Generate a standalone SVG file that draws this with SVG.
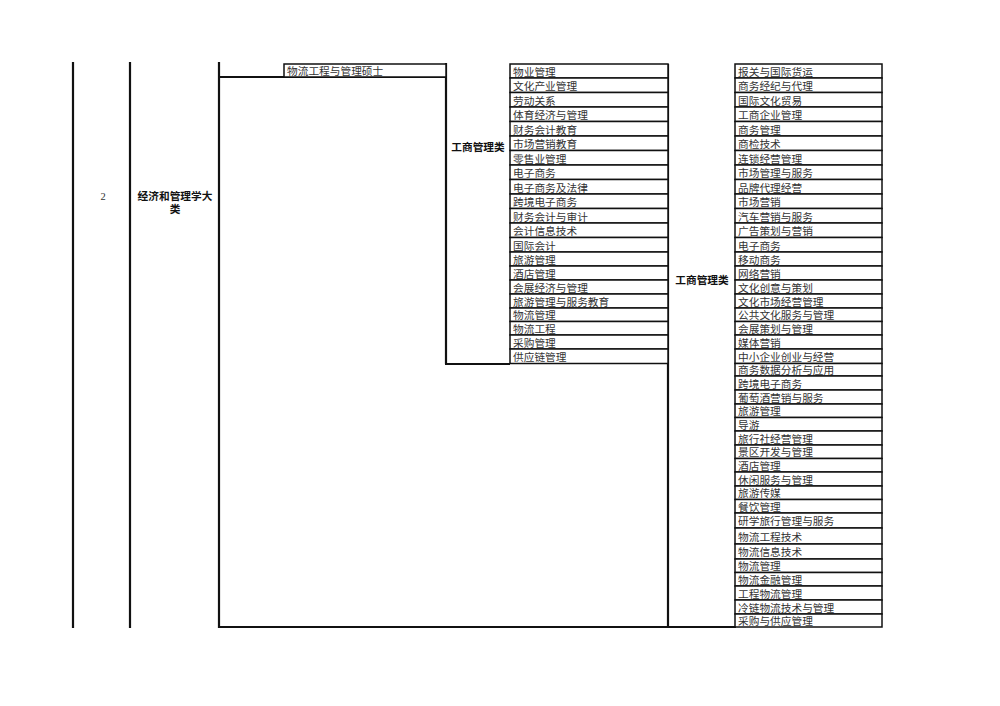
<svg xmlns="http://www.w3.org/2000/svg" width="1000" height="706" viewBox="0 0 1000 706">
<style>
.bg{fill:#fff}
.cell{fill:#fff;stroke:#111;stroke-width:1.5}
.t{font-family:"Liberation Serif","Noto Sans CJK SC",serif;font-size:10.7px;fill:#333}
.b{font-family:"Liberation Sans","Noto Sans CJK SC",sans-serif;font-size:10.7px;font-weight:bold;fill:#111}
.n{font-family:"Liberation Serif","Noto Sans CJK SC",serif;font-size:10.5px;fill:#333}
.thick{stroke:#111;stroke-width:2.2;fill:none}
</style>
<rect class="bg" x="0" y="0" width="1000" height="706"/>
<g id="connectors">
<line class="thick" x1="73" y1="62" x2="73" y2="628"/>
<line class="thick" x1="130" y1="62" x2="130" y2="628"/>
<line class="thick" x1="219" y1="62" x2="219" y2="628"/>
<line class="thick" x1="218" y1="77" x2="447" y2="77"/>
<line class="thick" x1="446" y1="63" x2="446" y2="364"/>
<line class="thick" x1="445" y1="364" x2="510" y2="364"/>
<line class="thick" x1="668" y1="64" x2="668" y2="628"/>
<line class="thick" x1="218" y1="627" x2="736" y2="627"/>
</g>
<g id="node-num"><text class="n" x="103" y="200" text-anchor="middle">2</text></g>
<g id="node-category"><text class="b" x="175" y="200" text-anchor="middle">经济和管理学大</text><text class="b" x="175" y="213" text-anchor="middle">类</text></g>
<g id="node-master"><rect class="cell" x="284" y="64" width="162" height="13"/><text class="t" x="287" y="75">物流工程与管理硕士</text></g>
<g id="node-mid-label"><text class="b" x="478" y="151" text-anchor="middle">工商管理类</text></g>
<g id="node-right-label"><text class="b" x="702" y="284" text-anchor="middle">工商管理类</text></g>
<g id="node-mid-list">
<rect class="cell" x="510" y="64" width="158" height="14"/><text class="t" x="513" y="75.5">物业管理</text>
<rect class="cell" x="510" y="78" width="158" height="14.5"/><text class="t" x="513" y="90">文化产业管理</text>
<rect class="cell" x="510" y="92.5" width="158" height="14.5"/><text class="t" x="513" y="104.5">劳动关系</text>
<rect class="cell" x="510" y="107" width="158" height="14.5"/><text class="t" x="513" y="119">体育经济与管理</text>
<rect class="cell" x="510" y="121.5" width="158" height="14.5"/><text class="t" x="513" y="133.5">财务会计教育</text>
<rect class="cell" x="510" y="136" width="158" height="14.5"/><text class="t" x="513" y="148">市场营销教育</text>
<rect class="cell" x="510" y="150.5" width="158" height="14.5"/><text class="t" x="513" y="162.5">零售业管理</text>
<rect class="cell" x="510" y="165" width="158" height="14.5"/><text class="t" x="513" y="177">电子商务</text>
<rect class="cell" x="510" y="179.5" width="158" height="14.5"/><text class="t" x="513" y="191.5">电子商务及法律</text>
<rect class="cell" x="510" y="194" width="158" height="14.5"/><text class="t" x="513" y="206">跨境电子商务</text>
<rect class="cell" x="510" y="208.5" width="158" height="14.5"/><text class="t" x="513" y="220.5">财务会计与审计</text>
<rect class="cell" x="510" y="223" width="158" height="14.5"/><text class="t" x="513" y="235">会计信息技术</text>
<rect class="cell" x="510" y="237.5" width="158" height="14.5"/><text class="t" x="513" y="249.5">国际会计</text>
<rect class="cell" x="510" y="252" width="158" height="14"/><text class="t" x="513" y="263.5">旅游管理</text>
<rect class="cell" x="510" y="266" width="158" height="14"/><text class="t" x="513" y="277.5">酒店管理</text>
<rect class="cell" x="510" y="280" width="158" height="14"/><text class="t" x="513" y="291.5">会展经济与管理</text>
<rect class="cell" x="510" y="294" width="158" height="14"/><text class="t" x="513" y="305.5">旅游管理与服务教育</text>
<rect class="cell" x="510" y="308" width="158" height="13.5"/><text class="t" x="513" y="319">物流管理</text>
<rect class="cell" x="510" y="321.5" width="158" height="13.5"/><text class="t" x="513" y="332.5">物流工程</text>
<rect class="cell" x="510" y="335" width="158" height="14"/><text class="t" x="513" y="346.5">采购管理</text>
<rect class="cell" x="510" y="349" width="158" height="14.5"/><text class="t" x="513" y="360.5">供应链管理</text>
</g>
<g id="node-right-list">
<rect class="cell" x="735" y="64" width="147" height="14"/><text class="t" x="738" y="75.5">报关与国际货运</text>
<rect class="cell" x="735" y="78" width="147" height="14.5"/><text class="t" x="738" y="90">商务经纪与代理</text>
<rect class="cell" x="735" y="92.5" width="147" height="14.5"/><text class="t" x="738" y="104.5">国际文化贸易</text>
<rect class="cell" x="735" y="107" width="147" height="14.5"/><text class="t" x="738" y="119">工商企业管理</text>
<rect class="cell" x="735" y="121.5" width="147" height="14.5"/><text class="t" x="738" y="133.5">商务管理</text>
<rect class="cell" x="735" y="136" width="147" height="14.5"/><text class="t" x="738" y="148">商检技术</text>
<rect class="cell" x="735" y="150.5" width="147" height="14.5"/><text class="t" x="738" y="162.5">连锁经营管理</text>
<rect class="cell" x="735" y="165" width="147" height="14.5"/><text class="t" x="738" y="177">市场管理与服务</text>
<rect class="cell" x="735" y="179.5" width="147" height="14.5"/><text class="t" x="738" y="191.5">品牌代理经营</text>
<rect class="cell" x="735" y="194" width="147" height="14.5"/><text class="t" x="738" y="206">市场营销</text>
<rect class="cell" x="735" y="208.5" width="147" height="14.5"/><text class="t" x="738" y="220.5">汽车营销与服务</text>
<rect class="cell" x="735" y="223" width="147" height="14.5"/><text class="t" x="738" y="235">广告策划与营销</text>
<rect class="cell" x="735" y="237.5" width="147" height="14.5"/><text class="t" x="738" y="249.5">电子商务</text>
<rect class="cell" x="735" y="252" width="147" height="14"/><text class="t" x="738" y="263.5">移动商务</text>
<rect class="cell" x="735" y="266" width="147" height="14"/><text class="t" x="738" y="277.5">网络营销</text>
<rect class="cell" x="735" y="280" width="147" height="14"/><text class="t" x="738" y="291.5">文化创意与策划</text>
<rect class="cell" x="735" y="294" width="147" height="14"/><text class="t" x="738" y="305.5">文化市场经营管理</text>
<rect class="cell" x="735" y="308" width="147" height="13.5"/><text class="t" x="738" y="319">公共文化服务与管理</text>
<rect class="cell" x="735" y="321.5" width="147" height="13.5"/><text class="t" x="738" y="332.5">会展策划与管理</text>
<rect class="cell" x="735" y="335" width="147" height="14"/><text class="t" x="738" y="346.5">媒体营销</text>
<rect class="cell" x="735" y="349" width="147" height="14.5"/><text class="t" x="738" y="360.5">中小企业创业与经营</text>
<rect class="cell" x="735" y="363.5" width="147" height="12.5"/><text class="t" x="738" y="373.5">商务数据分析与应用</text>
<rect class="cell" x="735" y="376" width="147" height="14"/><text class="t" x="738" y="387.5">跨境电子商务</text>
<rect class="cell" x="735" y="390" width="147" height="14"/><text class="t" x="738" y="401.5">葡萄酒营销与服务</text>
<rect class="cell" x="735" y="404" width="147" height="13.5"/><text class="t" x="738" y="415">旅游管理</text>
<rect class="cell" x="735" y="417.5" width="147" height="13.5"/><text class="t" x="738" y="428.5">导游</text>
<rect class="cell" x="735" y="431" width="147" height="14"/><text class="t" x="738" y="442.5">旅行社经营管理</text>
<rect class="cell" x="735" y="445" width="147" height="13.5"/><text class="t" x="738" y="456">景区开发与管理</text>
<rect class="cell" x="735" y="458.5" width="147" height="13.5"/><text class="t" x="738" y="469.5">酒店管理</text>
<rect class="cell" x="735" y="472" width="147" height="14"/><text class="t" x="738" y="483.5">休闲服务与管理</text>
<rect class="cell" x="735" y="486" width="147" height="13.5"/><text class="t" x="738" y="497">旅游传媒</text>
<rect class="cell" x="735" y="499.5" width="147" height="13.5"/><text class="t" x="738" y="510.5">餐饮管理</text>
<rect class="cell" x="735" y="513" width="147" height="15"/><text class="t" x="738" y="524.5">研学旅行管理与服务</text>
<rect class="cell" x="735" y="528" width="147" height="16"/><text class="t" x="738" y="540.5">物流工程技术</text>
<rect class="cell" x="735" y="544" width="147" height="15"/><text class="t" x="738" y="556">物流信息技术</text>
<rect class="cell" x="735" y="559" width="147" height="13.5"/><text class="t" x="738" y="570">物流管理</text>
<rect class="cell" x="735" y="572.5" width="147" height="13.5"/><text class="t" x="738" y="583.5">物流金融管理</text>
<rect class="cell" x="735" y="586" width="147" height="14"/><text class="t" x="738" y="597.5">工程物流管理</text>
<rect class="cell" x="735" y="600" width="147" height="14"/><text class="t" x="738" y="611.5">冷链物流技术与管理</text>
<rect class="cell" x="735" y="614" width="147" height="13"/><text class="t" x="738" y="625">采购与供应管理</text>
</g>
</svg>
